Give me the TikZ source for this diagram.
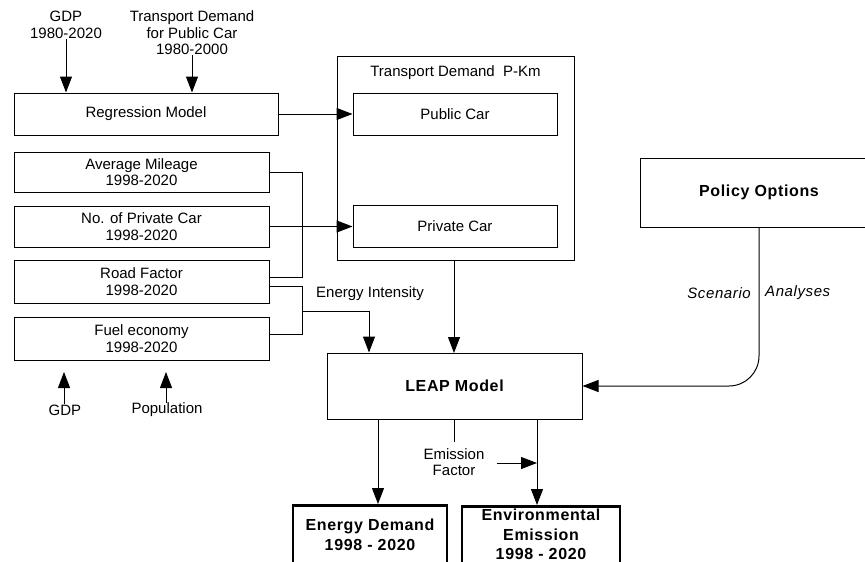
\documentclass[tikz,border=0pt]{standalone}
\usepackage{fontspec}
\setmainfont{Liberation Sans}
\usetikzlibrary{arrows.meta,calc}
\begin{document}
\begin{tikzpicture}[x=1pt,y=-1pt,
  font=\fontsize{15}{16.5}\selectfont,
  box/.style={draw, line width=1pt, inner sep=0pt, align=center},
  thickbox/.style={draw, line width=2.6pt, inner sep=0pt, align=center},
  lbl/.style={inner sep=0pt, align=center},
  conn/.style={line width=1pt},
  arr/.style={line width=1pt, -{Triangle[length=16pt,width=12pt]}},
  boldtxt/.style={font=\fontsize{16}{19.5}\selectfont\bfseries\addfontfeature{LetterSpace=4}}
]
\useasboundingbox (0,0) rectangle (865,562);

% top inputs
\node[lbl] (gdp) at (66,25) {GDP\\1980-2020};
\node[lbl] (tdpc) at (192,33) {Transport Demand\\for Public Car\\1980-2000};

% left boxes
\node[box, minimum width=264pt, minimum height=42pt] (reg) at (146,114) {Regression Model};
\node[box, minimum width=255pt, minimum height=40pt] (avg) at (141.5,172) {Average Mileage\\1998-2020};
\node[box, minimum width=255pt, minimum height=41pt] (npc) at (141.5,226.5) {No. of Private Car\\1998-2020};
\node[box, minimum width=255pt, minimum height=43pt] (rf) at (141.5,281.5) {Road Factor\\1998-2020};
\node[box, minimum width=255pt, minimum height=43pt] (fe) at (141.5,338.5) {Fuel economy\\1998-2020};

% bottom-left inputs
\node[lbl] (gdp2) at (65,410) {GDP};
\node[lbl] (pop) at (167,410) {Population};
\coordinate (gdp2t) at (64,372);
\coordinate (popt) at (166,372);

% transport demand box
\node[box, minimum width=237pt, minimum height=204pt] (td) at (455.5,158) {};
\node[lbl] (tdt) at (455.5,73) {Transport Demand\ \ P-Km};
\node[box, minimum width=204pt, minimum height=42pt] (pub) at (455,114) {Public Car};
\node[box, minimum width=204pt, minimum height=42pt] (prv) at (455,226.5) {Private Car};

% policy
\node[box, minimum width=238pt, minimum height=69pt, boldtxt] (pol) at (759,192.5) {Policy Options};

% LEAP
\node[box, minimum width=255pt, minimum height=66pt, boldtxt] (leap) at (454.5,386) {LEAP Model};

% outputs
\node[thickbox, minimum width=154pt, minimum height=80pt, anchor=north] (ed) at (370,504) {};
\node[lbl, boldtxt, anchor=north] (edt) at (370,519) {Energy Demand\\1998 - 2020};
\node[thickbox, minimum width=158pt, minimum height=80pt, anchor=north] (env) at (541,505) {};
\node[lbl, boldtxt, anchor=north] (envt) at (541,509) {Environmental\\Emission\\1998 - 2020};

% labels
\node[lbl] (ei) at (370,294) {Energy Intensity};
\node[lbl] (ef) at (454,462) {Emission\\Factor};
\node[lbl, anchor=east, font=\fontsize{15}{16.5}\selectfont\itshape\addfontfeature{LetterSpace=4}] (sc) at (751,293) {Scenario};
\node[lbl, anchor=west, font=\fontsize{15}{16.5}\selectfont\itshape\addfontfeature{LetterSpace=4}] (an) at (765,293) {Analyses};

% connectors: top
\draw[arr] (gdp.south) -- (gdp.south |- reg.north);
\draw[arr] (tdpc.south) -- (tdpc.south |- reg.north);
\draw[arr] (reg.east) -- (pub.west);
\draw[arr] (npc.east) -- (prv.west);

% brackets
\coordinate (rfu) at ($(rf.east)+(0,-4.5)$);
\coordinate (rfl) at ($(rf.east)+(0,4.5)$);
\coordinate (feu) at ($(fe.east)+(0,-4.5)$);
\draw[conn] (avg.east) -- (302,172) -- (302 ,277) -- (rfu);
\draw[conn] (rfl) -- (302,286) -- (302,334) -- (feu);
\coordinate (eij) at (302,311);
\coordinate (eic) at (369,311);
\draw[arr] (eij) -- (eic) -- (eic |- leap.north);

% transport to LEAP
\draw[arr] (td.south -| 454,0) -- (454,353) coordinate (leapin);

% LEAP outputs
\draw[arr] (378,419) -- (378,504);
\draw[conn] (454,419) -- (454,442);
\coordinate (efs) at (497,463);
\coordinate (efe) at (537,463);
\draw[arr] (efs) -- (efe);
\draw[arr] (537,419) -- (537,505);

% policy to LEAP
\draw[conn, -{Triangle[length=16pt,width=12pt]}, rounded corners=30pt] (pol.south) |- (leap.east);

% bottom-left arrows
\draw[arr] (gdp2.north -| gdp2t) -- (gdp2t);
\draw[arr] (pop.north -| popt) -- (popt);
\end{tikzpicture}
\end{document}
